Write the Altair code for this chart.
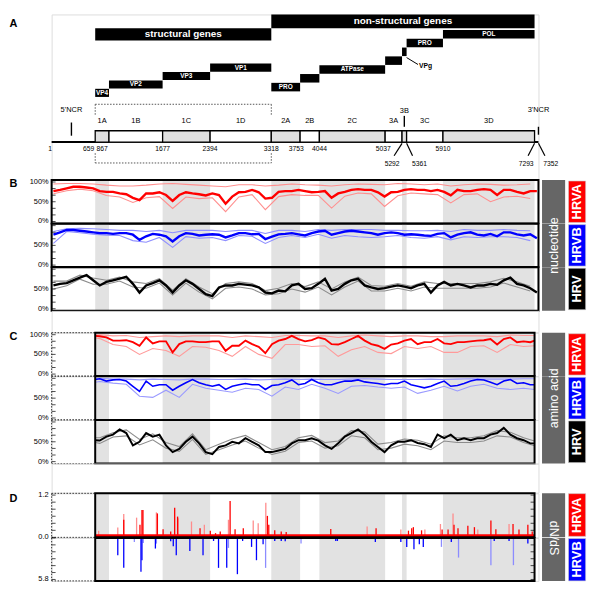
import altair as alt
import numpy as np
import pandas as pd

# ------------------------------------------------------------------
# Values
# ------------------------------------------------------------------
GENOME_LEN = 7352
CODING_START = 659
CODING_END = 7293

region_names = ["1A", "1B", "1C", "1D", "2A", "2B", "2C", "3A", "3B", "3C", "3D"]
region_starts = [659, 867, 1677, 2394, 3318, 3753, 4044, 5037, 5292, 5361, 5910]
region_shaded = [True, False, True, False, True, False, True, False, True, False, True]
protein_names = ["VP4", "VP2", "VP3", "VP1", "PRO", "", "ATPase", "", "", "PRO", "POL"]
gene_groups = ["structural genes", "non-structural genes"]
gene_group_bounds = [659, 3318, 7293]
ncr_names = ["5'NCR", "3'NCR"]
ncr_positions = [300, 7352]
position_labels_upper = [1, 659, 867, 1677, 2394, 3318, 3753, 4044, 5037, 5910]
position_labels_lower = [5292, 5361, 7293, 7352]

# sliding-window centres (nt)
win_nt = [28 + 100 * i for i in range(74)]
pale_nt = win_nt[0::2]
aa_nt = [CODING_START] + win_nt[7:73] + [CODING_END]
aa_pale_nt = [CODING_START] + win_nt[7:73:2] + [CODING_END]

# B: nucleotide identity (%)
hrva_nt_main = [77, 80, 84, 88, 88, 86, 84, 77, 75, 75, 71, 69, 60, 54, 71, 71, 74, 67, 52, 67,
                74, 71, 69, 66, 71, 67, 45, 63, 74, 75, 80, 74, 58, 60, 75, 77, 77, 80,
                77, 74, 75, 77, 60, 71, 75, 80, 82, 80, 80, 74, 63, 74, 75, 80, 82, 80, 80, 77,
                80, 75, 66, 80, 77, 77, 80, 82, 80, 67, 80, 80, 75, 71, 77, 77]
hrva_nt_lo = [70, 78, 82, 78, 66, 62, 48, 60, 63, 33, 62, 58, 60, 25, 62, 68, 30, 63, 68,
              66, 66, 34, 64, 72, 70, 38, 65, 72, 70, 68, 47, 68, 70, 50, 62, 64, 58]
hrva_nt_hi = [95, 96, 96, 95, 92, 90, 90, 92, 95, 96, 94, 92, 90, 88, 93, 93, 90, 92, 95,
              93, 92, 90, 93, 95, 94, 93, 96, 95, 93, 95, 90, 93, 95, 94, 92, 93, 95]

hrvb_nt_main = [77, 83, 89, 89, 87, 85, 83, 81, 81, 79, 81, 81, 77, 64, 73, 79, 77, 73, 60, 73,
                81, 79, 75, 77, 78, 77, 70, 75, 81, 81, 78, 79, 66, 72, 78, 79, 81, 78,
                75, 81, 85, 87, 77, 81, 85, 87, 85, 83, 81, 77, 81, 83, 81, 77, 78, 77, 75, 74,
                79, 81, 70, 77, 81, 83, 77, 75, 79, 73, 83, 83, 78, 75, 78, 68]
hrvb_nt_lo = [55, 85, 82, 78, 76, 75, 62, 58, 70, 45, 72, 68, 70, 62, 75, 73, 55, 70, 75,
              70, 78, 68, 75, 72, 70, 72, 75, 70, 68, 72, 64, 72, 70, 72, 72, 70, 62]
hrvb_nt_hi = [85, 92, 93, 92, 90, 88, 88, 85, 88, 82, 88, 88, 88, 85, 88, 88, 80, 88, 88,
              85, 90, 88, 90, 90, 90, 88, 88, 87, 87, 88, 85, 90, 88, 88, 90, 88, 87]

hrv_nt_main = [59, 63, 65, 72, 79, 85, 72, 59, 68, 72, 76, 81, 63, 41, 59, 65, 72, 59, 41, 59,
               72, 63, 50, 37, 32, 54, 59, 59, 63, 61, 59, 54, 41, 39, 46, 44, 59, 63,
               50, 52, 63, 76, 46, 50, 63, 72, 76, 59, 54, 50, 52, 56, 59, 56, 52, 59, 63, 41,
               59, 68, 59, 63, 59, 54, 59, 59, 63, 61, 72, 79, 63, 59, 52, 41]
hrv_nt_lo = [50, 58, 75, 62, 62, 70, 55, 52, 65, 35, 65, 42, 25, 52, 55, 50, 35, 38, 50,
             42, 55, 35, 55, 70, 45, 45, 52, 45, 55, 52, 52, 52, 52, 55, 65, 55, 45]
hrv_nt_hi = [70, 70, 85, 78, 72, 80, 68, 64, 76, 47, 76, 55, 38, 64, 68, 64, 46, 52, 64,
             56, 68, 50, 68, 80, 59, 57, 64, 57, 68, 64, 64, 64, 64, 68, 77, 68, 57]

# C: amino-acid identity (%)
hrva_aa_main = [97,
                96, 93, 85, 85, 86, 81, 72, 93, 78, 83, 83, 55, 76, 83, 83, 81, 81, 83, 83, 59,
                72, 72, 85, 76, 69, 53, 76, 85, 89, 97, 89,
                83, 86, 93, 89, 76, 75, 81, 89, 97, 85, 76, 72, 64, 75, 78, 85, 89, 76, 81, 81,
                89, 78, 76, 81, 81, 83, 85, 86, 89, 75, 89, 93, 81, 83, 81,
                85]
hrva_aa_hi = [100, 100, 97, 98, 93, 95, 97, 95, 97, 97, 97, 93, 97, 95, 93, 98, 98,
              97, 97, 93, 97, 99, 97, 95, 97, 97, 95, 95, 97, 97, 97, 95, 99, 98, 98]
hrva_aa_lo = [92, 90, 75, 70, 50, 65, 60, 45, 70, 68, 60, 45, 70, 50, 40, 75, 75,
              70, 72, 45, 62, 70, 55, 52, 70, 65, 70, 55, 55, 70, 72, 55, 75, 70, 72]

hrvb_aa_main = [97,
                99, 93, 96, 97, 93, 80, 67, 93, 80, 84, 84, 70, 80, 89, 97, 89, 84, 80, 84, 72,
                80, 84, 87, 84, 84, 72, 82, 84, 89, 96, 84,
                87, 97, 89, 84, 84, 89, 93, 93, 96, 91, 89, 87, 84, 87, 87, 93, 84, 80, 76, 80,
                87, 93, 80, 82, 87, 93, 97, 96, 90, 84, 93, 97, 87, 89, 84,
                84]
hrvb_aa_hi = [100, 100, 98, 98, 96, 98, 97, 96, 98, 98, 97, 97, 98, 96, 97, 98, 97,
              98, 97, 97, 98, 99, 98, 97, 97, 97, 98, 97, 98, 99, 98, 98, 98, 99, 99]
hrvb_aa_lo = [90, 92, 88, 85, 55, 52, 70, 52, 85, 75, 70, 65, 75, 72, 55, 78, 72,
              85, 75, 62, 80, 82, 78, 75, 78, 62, 70, 80, 68, 80, 85, 75, 72, 75, 72]

hrv_aa_main = [54,
               53, 63, 68, 81, 72, 41, 50, 72, 63, 68, 41, 24, 32, 50, 63, 46, 24, 19, 37, 41,
               50, 46, 59, 50, 41, 24, 24, 28, 32, 46, 54,
               54, 59, 53, 41, 32, 46, 63, 72, 81, 68, 50, 37, 24, 41, 50, 50, 54, 47, 44, 37,
               68, 59, 68, 54, 59, 54, 59, 59, 68, 72, 85, 68, 59, 54, 46,
               46]
hrv_aa_hi = [60, 60, 73, 80, 56, 70, 48, 38, 70, 30, 44, 57, 66, 48, 30, 38, 60,
             66, 48, 52, 78, 75, 44, 48, 57, 54, 44, 65, 60, 60, 65, 78, 74, 60, 52]
hrv_aa_lo = [48, 46, 62, 65, 42, 55, 34, 26, 56, 18, 30, 42, 52, 34, 18, 26, 48,
             52, 34, 40, 65, 60, 30, 34, 44, 40, 30, 52, 48, 48, 52, 65, 62, 48, 40]

# D: dN/dS
hrva_dnds_pos = [711, 1000, 1090, 1090, 1284, 1335, 1365, 1380, 1583, 1598, 1684, 1799, 1859, 1903,
                 1912, 2113, 2242, 2307, 2397, 2476, 2547, 2671, 2696, 2771, 2895, 3045, 3120, 3235,
                 3259, 3280, 3370, 3468, 3543, 4216, 4765, 4900, 5274, 5389, 5438, 5463, 5587, 5637,
                 5872, 5897, 5987, 6062, 6077, 6137, 6286, 6385, 6436, 6634, 6709, 6908, 6968, 7058,
                 7192, 7258]
hrva_dnds_val = [0.19, 0.28, 0.66, 0.50, 0.56, 0.36, 0.78, 0.78, 0.71, 0.68, 0.23, 0.17, 0.84, 0.59,
                 0.54, 0.45, 0.26, 0.36, 0.19, 0.12, 0.17, 0.50, 1.03, 0.23, 0.26, 0.48, 0.40, 0.98,
                 0.61, 0.36, 0.20, 0.17, 0.15, 0.24, 0.31, 0.26, 0.22, 0.19, 0.26, 0.29, 0.20, 0.22,
                 0.38, 0.22, 0.22, 0.68, 0.36, 0.26, 0.33, 0.29, 0.22, 0.48, 0.23, 0.38, 0.38, 0.22,
                 0.36, 0.17]
hrva_dnds_tone = ["L", "L", "L", "D", "L", "D", "D", "D", "L", "D", "D", "D", "D", "D",
                  "L", "L", "D", "L", "D", "D", "D", "L", "D", "D", "D", "L", "L", "L",
                  "D", "D", "D", "D", "D", "D", "L", "D", "L", "D", "D", "D", "D", "L",
                  "L", "D", "D", "L", "D", "D", "D", "D", "L", "D", "D", "L", "D", "D",
                  "D", "D"]
hrva_dnds_floor = 0.09

hrvb_dnds_pos = [1000, 1090, 1250, 1350, 1365, 1385, 1568, 1583, 1799, 1838, 1883, 2088, 2287, 2446,
                 2521, 2645, 2671, 2806, 2885, 3020, 3094, 3194, 3232, 3370, 3468, 3528, 3767, 4291,
                 4316, 4889, 5274, 5363, 5472, 5553, 5613, 5887, 6036, 6145, 6634, 6684, 6908, 6974,
                 7192]
hrvb_dnds_val = [2.41, 4.18, 0.56, 4.73, 3.11, 0.70, 1.48, 0.79, 0.46, 1.16, 2.41, 1.81, 2.41, 0.42,
                 4.18, 4.18, 1.39, 5.06, 0.42, 1.25, 3.11, 0.88, 4.18, 0.42, 0.42, 0.46, 0.79, 0.42,
                 0.42, 0.56, 0.56, 1.25, 1.58, 0.88, 1.25, 1.25, 0.56, 2.74, 3.80, 0.42, 0.42, 3.80,
                 0.79]
hrvb_dnds_tone = ["D", "D", "L", "D", "D", "L", "D", "L", "D", "D", "D", "D", "D", "D",
                  "D", "D", "L", "D", "D", "D", "D", "D", "L", "D", "D", "D", "L", "D",
                  "D", "D", "D", "D", "D", "D", "D", "L", "D", "L", "L", "D", "D", "L",
                  "D"]
hrvb_dnds_floor = 0.12

# ------------------------------------------------------------------
# Layout / style
# ------------------------------------------------------------------
W = 491
NT_PER_PX = (GENOME_LEN - 1) / W
FONT = "Liberation Sans"
BAND = "#e2e2e2"
LETTER_X = -43

H_A = 166.6
H_B = [43.8, 43.8, 43.8]
H_GAP1 = 21.6
H_C = [43.7, 44.0, 44.0]
H_GAP2 = 29.3
H_D = [44.4, 43.3]

GX0, GX1 = 494.6, 517.9     # grey side box
CX0, CX1 = 521.3, 538.6     # coloured side box

xs = alt.Scale(domain=[1, GENOME_LEN], nice=False, zero=False)


def X(f="x"):
    return alt.X(f"{f}:Q", scale=xs, axis=None)


def letter_axis(letter, ty):
    return dict(title=letter, titleAngle=0, titleX=LETTER_X, titleY=ty, titleAlign="left",
                titleBaseline="middle", titleFontSize=11, titleFontWeight="bold",
                titleFont=FONT, titleColor="black")


reg = pd.DataFrame({"name": region_names, "x": region_starts,
                    "x2": region_starts[1:] + [CODING_END],
                    "shade": ["grey" if s else "white" for s in region_shaded]})
reg["mid"] = (reg["x"] + reg["x2"]) / 2

# ------------------------------------------------------------------
# Panel A: genome map
# ------------------------------------------------------------------
ya_scale = alt.Scale(domain=[0, H_A], reverse=True, nice=False, zero=False)
ya_axis = alt.Axis(labels=False, ticks=False, domain=False, grid=False, **letter_axis("A", 9))


def YA(f="y"):
    return alt.Y(f"{f}:Q", scale=ya_scale, axis=ya_axis)


A_NS_BAR = (0.0, 14.0)
A_S_BAR = (14.0, 26.3)
A_S_TOP0, A_S_STEP, A_S_H = 75.0, 8.5, 8.2
A_NS_TOP0, A_NS_STEP, A_NS_H = 69.0, 8.9, 8.6
A_BOX = (117.3, 128.8)
A_LINE_Y = 128.6
A_REGION_LABEL_Y = 107.5
A_NCR_LABEL_Y = 96.8
A_NCR_TICKS = [(109.0, 122.3), (113.3, 121.3)]
A_3B_LABEL_Y = 97.3
A_3B_TICK = (102.3, 113.3)
A_POS_UPPER_Y = 135.8
A_POS_LOWER_Y = 150.8
A_CONNECT_Y = (130.0, 142.5)
A_DOT_TOP, A_DOT_TOP_END = 90.6, 102.0
A_DOT_BOT, A_DOT_BOT_START = 149.8, 140.0
A_VPG_LINE = (43.5, 50.5)
A_VPG_TEXT_Y = 52.3
upper_dx_px = {1: -1.4, 659: -1.0, 867: -12.7, 3753: -4.0, 5037: -2.0}
upper_align = {659: "right", 867: "left"}
lower_dx_px = {5292: -10.0, 5361: 13.0, 7293: -8.5, 7352: 12.5}
connector_dx_px = {5292: -8.0, 5361: 6.0, 7293: -6.5, 7352: 6.5}

a_layers = []

grp = pd.DataFrame({"name": gene_groups, "x": gene_group_bounds[:2], "x2": gene_group_bounds[1:],
                    "y": [A_S_BAR[0], A_NS_BAR[0]], "y2": [A_S_BAR[1], A_NS_BAR[1]]})
grp["mid"] = (grp["x"] + grp["x2"]) / 2
grp["ym"] = (grp["y"] + grp["y2"]) / 2
a_layers.append(alt.Chart(grp).mark_rect(color="black").encode(
    x=X(), x2="x2:Q", y=YA("y"), y2="y2:Q"))
a_layers.append(alt.Chart(grp).mark_text(color="white", fontSize=10, fontWeight="bold", font=FONT).encode(
    x=X("mid"), y=YA("ym"), text="name:N"))

# protein staircase
tops, bots = [], []
for i in range(len(region_names)):
    if i < 4:
        t = A_S_TOP0 - A_S_STEP * i
        tops.append(t)
        bots.append(t + A_S_H)
    else:
        t = A_NS_TOP0 - A_NS_STEP * (i - 4)
        tops.append(t)
        bots.append(t + A_NS_H)
prot = reg.assign(y=tops, y2=bots, label=protein_names)
prot["ym"] = (prot["y"] + prot["y2"]) / 2
a_layers.append(alt.Chart(prot).mark_rect(color="black").encode(x=X(), x2="x2:Q", y=YA(), y2="y2:Q"))
a_layers.append(alt.Chart(prot).mark_text(color="white", fontSize=6.5, fontWeight="bold", font=FONT).encode(
    x=X("mid"), y=YA("ym"), text="label:N"))

# VPg callout
vpg_x = region_starts[9]
vpg = pd.DataFrame({"x": [vpg_x], "x2": [vpg_x + 11.5 * NT_PER_PX], "y": [A_VPG_LINE[0]],
                    "y2": [A_VPG_LINE[1]], "tx": [vpg_x + 12.5 * NT_PER_PX],
                    "ty": [A_VPG_TEXT_Y], "t": ["VPg"]})
a_layers.append(alt.Chart(vpg).mark_rule(color="black", strokeWidth=1).encode(
    x=X(), x2="x2:Q", y=YA(), y2="y2:Q"))
a_layers.append(alt.Chart(vpg).mark_text(align="left", fontSize=6.8, fontWeight="bold", font=FONT).encode(
    x=X("tx"), y=YA("ty"), text="t:N"))

# dotted bracket around structural region
g0, g1 = gene_group_bounds[0], gene_group_bounds[1]
dot = pd.DataFrame({"x": [g0, g0, g0, g1, g0, g1], "x2": [g1, g1, g0, g1, g0, g1],
                    "y": [A_DOT_TOP, A_DOT_BOT, A_DOT_TOP, A_DOT_TOP, A_DOT_BOT_START, A_DOT_BOT_START],
                    "y2": [A_DOT_TOP, A_DOT_BOT, A_DOT_TOP_END, A_DOT_TOP_END, A_DOT_BOT, A_DOT_BOT]})
a_layers.append(alt.Chart(dot).mark_rule(color="#555555", strokeWidth=1, strokeDash=[1.5, 1.5]).encode(
    x=X(), x2="x2:Q", y=YA(), y2="y2:Q"))

# genome line and segmented box
gline = pd.DataFrame({"x": [1], "x2": [GENOME_LEN], "y": [A_LINE_Y]})
a_layers.append(alt.Chart(gline).mark_rule(color="black", strokeWidth=2).encode(x=X(), x2="x2:Q", y=YA()))
a_layers.append(alt.Chart(reg.assign(y=A_BOX[0], y2=A_BOX[1])).mark_rect(stroke="black", strokeWidth=1.3).encode(
    x=X(), x2="x2:Q", y=YA(), y2="y2:Q",
    fill=alt.Fill("shade:N", scale=alt.Scale(domain=["grey", "white"], range=["#e0e0e0", "#ffffff"]), legend=None)))

# region names
rl = reg[reg["name"] != "3B"].assign(y=A_REGION_LABEL_Y)
a_layers.append(alt.Chart(rl).mark_text(fontSize=7.5, font=FONT, color="black").encode(
    x=X("mid"), y=YA(), text="name:N"))
r3b = reg[reg["name"] == "3B"].assign(y=A_3B_LABEL_Y, ty=A_3B_TICK[0], ty2=A_3B_TICK[1])
a_layers.append(alt.Chart(r3b).mark_text(fontSize=7.5, font=FONT, color="black").encode(
    x=X("mid"), y=YA(), text="name:N"))
a_layers.append(alt.Chart(r3b).mark_rule(color="black", strokeWidth=1.4).encode(
    x=X("mid"), y=YA("ty"), y2="ty2:Q"))

# NCR markers
ncr = pd.DataFrame({"name": ncr_names, "x": ncr_positions, "y": A_NCR_LABEL_Y,
                    "ty": [t[0] for t in A_NCR_TICKS], "ty2": [t[1] for t in A_NCR_TICKS]})
a_layers.append(alt.Chart(ncr).mark_text(fontSize=7.5, font=FONT, color="black").encode(
    x=X(), y=YA(), text="name:N"))
a_layers.append(alt.Chart(ncr).mark_rule(color="black", strokeWidth=1.4).encode(
    x=X(), y=YA("ty"), y2="ty2:Q"))

# position numbers
up = pd.DataFrame({"pos": position_labels_upper})
up["lx"] = [p + upper_dx_px.get(p, 0) * NT_PER_PX for p in position_labels_upper]
up["y"] = A_POS_UPPER_Y
up["txt"] = up["pos"].astype(str)
up["al"] = [upper_align.get(p, "center") for p in position_labels_upper]
for al in ["center", "left", "right"]:
    a_layers.append(alt.Chart(up[up["al"] == al]).mark_text(fontSize=6.8, font=FONT, color="black",
                                                           align=al).encode(
        x=X("lx"), y=YA(), text="txt:N"))
lo = pd.DataFrame({"pos": position_labels_lower})
lo["lx"] = [p + lower_dx_px[p] * NT_PER_PX for p in position_labels_lower]
lo["cx2"] = [p + connector_dx_px[p] * NT_PER_PX for p in position_labels_lower]
lo["y"] = A_POS_LOWER_Y
lo["cy"] = A_CONNECT_Y[0]
lo["cy2"] = A_CONNECT_Y[1]
lo["txt"] = lo["pos"].astype(str)
a_layers.append(alt.Chart(lo).mark_text(fontSize=6.8, font=FONT, color="black").encode(
    x=X("lx"), y=YA(), text="txt:N"))
a_layers.append(alt.Chart(lo).mark_rule(color="black", strokeWidth=1.2).encode(
    x=X("pos"), x2="cx2:Q", y=YA("cy"), y2="cy2:Q"))

panel_a = alt.layer(*a_layers).properties(width=W, height=H_A)


# ------------------------------------------------------------------
# Helpers for the data rows
# ------------------------------------------------------------------
def bands_layer(h):
    df = reg[reg["shade"] == "grey"]
    return alt.Chart(df).mark_rect(color=BAND).encode(
        x=X(), x2="x2:Q", y=alt.value(0), y2=alt.value(h))


def frame_layer(x0, x1, h):
    df = pd.DataFrame({"x": [x0], "x2": [x1]})
    return alt.Chart(df).mark_rect(fillOpacity=0, stroke="black", strokeWidth=2).encode(
        x=X(), x2="x2:Q", y=alt.value(0), y2=alt.value(h))


def dotted_layers(h, top=True, bottom=True):
    df = pd.DataFrame({"x": [1], "x2": [CODING_START]})
    base = alt.Chart(df).mark_rule(color="#333333", strokeWidth=1, strokeDash=[1.5, 1.5])
    out = [base.encode(x=X(), y=alt.value(0), y2=alt.value(h))]
    if top:
        out.append(base.encode(x=X(), x2="x2:Q", y=alt.value(0)))
    if bottom:
        out.append(base.encode(x=X(), x2="x2:Q", y=alt.value(h)))
    return out


def side_layers(h, side_color, side_label, gray_text=None, gray_text_y=None, gray_angle=270,
                inset=(1.0, 1.0)):
    df = pd.DataFrame({"t": [side_label]})
    out = [
        alt.Chart(df).mark_rect(color="#666666").encode(
            x=alt.value(GX0), x2=alt.value(GX1), y=alt.value(0), y2=alt.value(h)),
        alt.Chart(df).mark_rect(color=side_color, stroke="#cccccc", strokeWidth=0.6).encode(
            x=alt.value(CX0), x2=alt.value(CX1), y=alt.value(inset[0]), y2=alt.value(h - inset[1])),
        alt.Chart(df).mark_text(angle=270, color="white", fontSize=13, fontWeight="bold",
                                font=FONT, baseline="middle").encode(
            x=alt.value((CX0 + CX1) / 2), y=alt.value(h / 2), text="t:N"),
    ]
    if gray_text:
        gdf = pd.DataFrame({"t": [gray_text]})
        out.append(alt.Chart(gdf).mark_text(angle=gray_angle, color="white", fontSize=12.5,
                                            font=FONT, baseline="middle").encode(
            x=alt.value((GX0 + GX1) / 2), y=alt.value(gray_text_y), text="t:N"))
    return out


def make_axis(letter, letter_y):
    ax = dict(labels=False, ticks=False, domain=False, grid=False)
    if letter:
        ax.update(letter_axis(letter, letter_y))
    else:
        ax["title"] = None
    return alt.Axis(**ax)


def value_labels(vals, texts, ys, yax):
    df = pd.DataFrame({"x": 1, "t": vals, "lab": texts})
    return alt.Chart(df).mark_text(align="right", baseline="middle", dx=-3, fontSize=7.5,
                                   font=FONT, color="black").encode(
        x=X(), y=alt.Y("t:Q", scale=ys, axis=yax), text="lab:N")


def pct_row(h, x_main, v_main, x_pale, v_lo, v_hi, col, pale_col, main_w, axis_vals,
            frame, dotted, side_color, side_label, letter=None, letter_y=0,
            gray_text=None, gray_text_y=None):
    ys = alt.Scale(domain=[-5, 105], nice=False, zero=False)
    yax = make_axis(letter, letter_y)
    main = pd.DataFrame({"x": x_main, "v": v_main})
    pale = pd.DataFrame({"x": x_pale, "lo": v_lo, "hi": v_hi})
    ticks = pd.DataFrame({"x": 1, "t": np.linspace(0, 100, 7)})
    layers = [bands_layer(h)]
    if dotted:
        layers += dotted_layers(h)
    layers += [
        alt.Chart(pale).mark_line(color=pale_col, strokeWidth=1.1).encode(
            x=X(), y=alt.Y("lo:Q", scale=ys, axis=yax)),
        alt.Chart(pale).mark_line(color=pale_col, strokeWidth=1.1).encode(
            x=X(), y=alt.Y("hi:Q", scale=ys, axis=yax)),
        alt.Chart(main).mark_line(color=col, strokeWidth=main_w).encode(
            x=X(), y=alt.Y("v:Q", scale=ys, axis=yax)),
        frame_layer(frame[0], frame[1], h),
        alt.Chart(ticks).mark_tick(orient="horizontal", size=4, thickness=1, color="black",
                                   xOffset=2).encode(x=X(), y=alt.Y("t:Q", scale=ys, axis=yax)),
        value_labels(axis_vals, [f"{v}%" for v in axis_vals], ys, yax),
    ]
    layers += side_layers(h, side_color, side_label, gray_text, gray_text_y)
    return alt.layer(*layers).properties(width=W, height=h)


def dnds_row(h, domain, reverse, pos, val, tone, dark_col, light_col, floor, axis_vals, tick_vals,
             side_color, side_label, letter=None, letter_y=0, gray_text=None, gray_text_y=None,
             top=True, bottom=True, inset=(0.5, 0.5)):
    ys = alt.Scale(domain=domain, reverse=reverse, nice=False, zero=False)
    yax = make_axis(letter, letter_y)
    bars = pd.DataFrame({"x": pos, "v": val, "tone": tone})
    fl = pd.DataFrame({"x": [CODING_START], "x2": [CODING_END], "v": [floor]})
    tl = pd.DataFrame({"x": 1, "t": tick_vals})
    tr = pd.DataFrame({"x": CODING_END, "t": tick_vals})
    layers = [bands_layer(h)]
    layers += dotted_layers(h, top, bottom)
    layers += [
        alt.Chart(bars).transform_filter("datum.tone == 'L'").mark_rule(
            color=light_col, strokeWidth=1.3).encode(
            x=X(), y=alt.Y("v:Q", scale=ys, axis=yax), y2=alt.datum(0)),
        alt.Chart(bars).transform_filter("datum.tone == 'D'").mark_rule(
            color=dark_col, strokeWidth=1.3).encode(
            x=X(), y=alt.Y("v:Q", scale=ys, axis=yax), y2=alt.datum(0)),
        alt.Chart(fl).mark_rect(color=dark_col).encode(
            x=X(), x2="x2:Q", y=alt.Y("v:Q", scale=ys, axis=yax), y2=alt.datum(0)),
        frame_layer(CODING_START, CODING_END, h),
        alt.Chart(tl).mark_tick(orient="horizontal", size=4, thickness=1, color="black",
                                xOffset=2).encode(x=X(), y=alt.Y("t:Q", scale=ys, axis=yax)),
        alt.Chart(tr).mark_tick(orient="horizontal", size=4, thickness=1, color="black",
                                xOffset=-2).encode(x=X(), y=alt.Y("t:Q", scale=ys, axis=yax)),
        value_labels(axis_vals, [f"{v:.1f}" for v in axis_vals], ys, yax),
    ]
    layers += side_layers(h, side_color, side_label, gray_text, gray_text_y, gray_angle=90,
                          inset=inset)
    return alt.layer(*layers).properties(width=W, height=h)


def spacer(h):
    return alt.Chart(pd.DataFrame({"v": [0]})).mark_point(opacity=0).encode(
        x=alt.value(0), y=alt.value(0)).properties(width=W, height=h)


# ------------------------------------------------------------------
# Rows
# ------------------------------------------------------------------
FULL = (1, GENOME_LEN)
CODE = (CODING_START, CODING_END)

b1 = pct_row(H_B[0], win_nt, hrva_nt_main, pale_nt, hrva_nt_lo, hrva_nt_hi, "#ff0000", "#ff8f8f", 2.4,
             [0, 50, 100], FULL, False, "#ff0000", "HRVA", letter="B", letter_y=4)
b2 = pct_row(H_B[1], win_nt, hrvb_nt_main, pale_nt, hrvb_nt_lo, hrvb_nt_hi, "#0000ff", "#8f8fff", 2.4,
             [0, 50], FULL, False, "#0000ff", "HRVB")
b3 = pct_row(H_B[2], win_nt, hrv_nt_main, pale_nt, hrv_nt_lo, hrv_nt_hi, "#000000", "#8c8c8c", 2.4,
             [0, 50], FULL, False, "#000000", "HRV",
             gray_text="nucleotide", gray_text_y=H_B[2] - sum(H_B) / 2)

c1 = pct_row(H_C[0], aa_nt, hrva_aa_main, aa_pale_nt, hrva_aa_lo, hrva_aa_hi, "#ff0000", "#ff9a9a", 1.9,
             [0, 50, 100], CODE, True, "#ff0000", "HRVA", letter="C", letter_y=3.7)
c2 = pct_row(H_C[1], aa_nt, hrvb_aa_main, aa_pale_nt, hrvb_aa_lo, hrvb_aa_hi, "#0000ff", "#9a9aff", 1.6,
             [0, 50], CODE, True, "#0000ff", "HRVB")
c3 = pct_row(H_C[2], aa_nt, hrv_aa_main, aa_pale_nt, hrv_aa_lo, hrv_aa_hi, "#000000", "#8c8c8c", 2.0,
             [0, 50], CODE, True, "#000000", "HRV",
             gray_text="amino acid", gray_text_y=H_C[2] - sum(H_C) / 2)

d1 = dnds_row(H_D[0], [0, 1.25], False, hrva_dnds_pos, hrva_dnds_val, hrva_dnds_tone, "#ff0000",
              "#ff8c8c", hrva_dnds_floor, [0, 1.2], list(np.linspace(0, 1.2, 7)), "#ff0000", "HRVA",
              letter="D", letter_y=5, inset=(0.3, 1.0))
d2 = dnds_row(H_D[1], [0, 6.0], True, hrvb_dnds_pos, hrvb_dnds_val, hrvb_dnds_tone, "#0000ff",
              "#8c8cff", hrvb_dnds_floor, [5.8], list(np.linspace(0, 5.8, 7)), "#0000ff", "HRVB",
              gray_text="dN/dS", gray_text_y=0, top=False, inset=(0.6, 0.0))

chart = alt.vconcat(panel_a, b1, b2, b3, spacer(H_GAP1), c1, c2, c3, spacer(H_GAP2), d1, d2,
                    spacing=0, bounds="flush").properties(
    padding={"left": 0, "top": 3, "right": 5, "bottom": 5}
).configure_view(stroke=None).configure(font=FONT)

chart.save("out.html", embed_options={"renderer": "svg", "actions": False})
